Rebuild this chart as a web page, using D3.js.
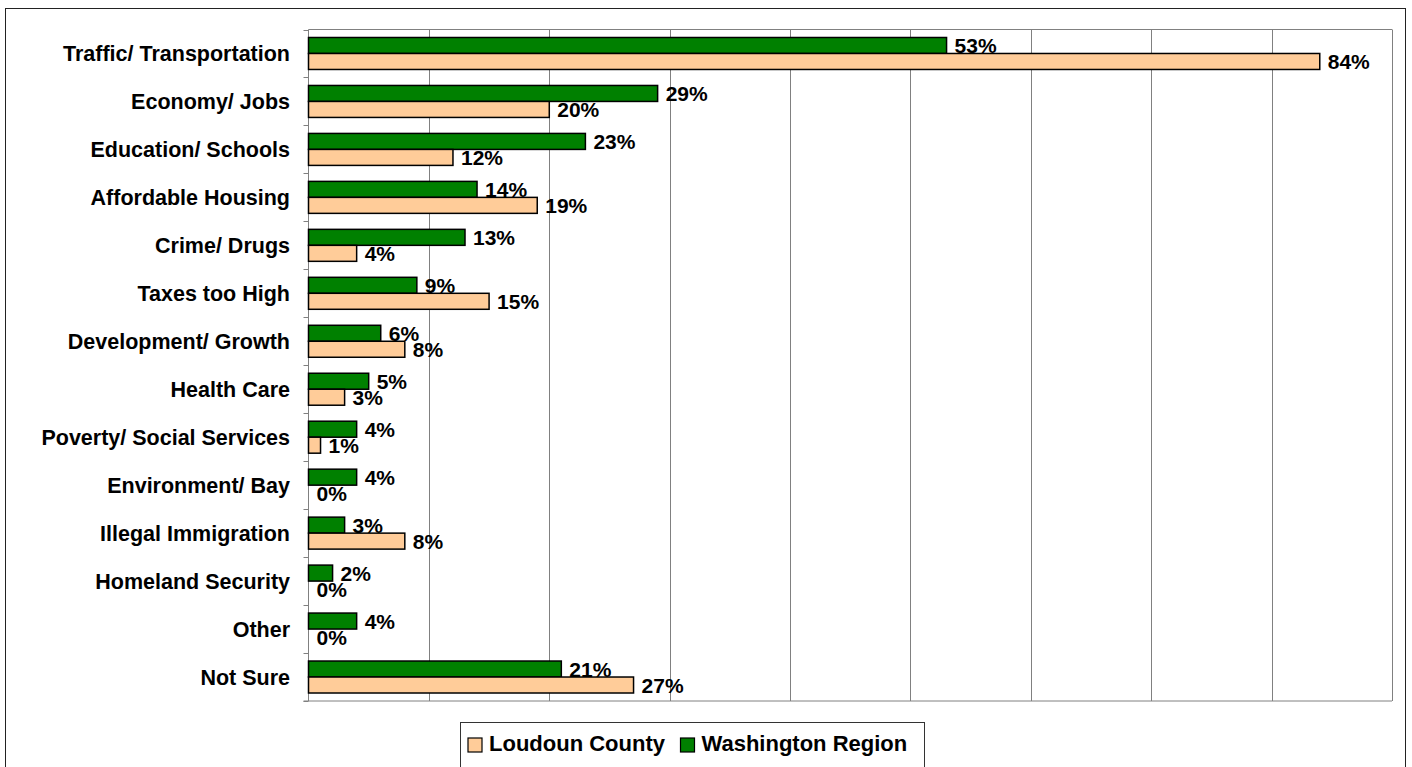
<!DOCTYPE html>
<html>
<head>
<meta charset="utf-8">
<script src="https://cdn.jsdelivr.net/npm/d3@7"></script>
<style>
  body { margin: 0; background: #fff; }
  text { font-family: "Liberation Sans", Arial, sans-serif; font-weight: bold; fill: #000; }
</style>
</head>
<body>
<div id="chart"></div>
<script>
var width = 1412;
var height = 767;

var categories = ["Traffic/ Transportation", "Economy/ Jobs", "Education/ Schools", "Affordable Housing",
  "Crime/ Drugs", "Taxes too High", "Development/ Growth", "Health Care", "Poverty/ Social Services",
  "Environment/ Bay", "Illegal Immigration", "Homeland Security", "Other", "Not Sure"];
var washington = [53, 29, 23, 14, 13, 9, 6, 5, 4, 4, 3, 2, 4, 21];
var loudoun = [84, 20, 12, 19, 4, 15, 8, 3, 1, 0, 8, 0, 0, 27];
var seriesNames = ["Washington Region", "Loudoun County"];
var legendOrder = ["Loudoun County", "Washington Region"];
var colors = { "Washington Region": "#008000", "Loudoun County": "#ffcc99" };
var gridTicks = [0, 10, 20, 30, 40, 50, 60, 70, 80, 90];

var plot = { left: 308.5, top: 29.5, right: 1392, bottom: 701 };

var svg = d3.select("#chart").append("svg")
  .attr("width", width)
  .attr("height", height);

// outer frame
svg.append("rect")
  .attr("x", 5.5).attr("y", 8.5)
  .attr("width", 1400).attr("height", 770)
  .attr("fill", "#fff").attr("stroke", "#222").attr("stroke-width", 1);

var x = d3.scaleLinear().domain([0, 90]).range([plot.left, plot.right]);
var y = d3.scaleBand().domain(categories).range([plot.top, plot.bottom]);
var y1 = d3.scaleBand().domain(seriesNames).range([0, y.bandwidth()]).paddingOuter(0.5);

// gridlines
svg.append("g")
  .selectAll("line")
  .data(gridTicks.slice(1))
  .enter().append("line")
  .attr("x1", function(d) { return Math.round(x(d)) + 0.5; })
  .attr("x2", function(d) { return Math.round(x(d)) + 0.5; })
  .attr("y1", plot.top).attr("y2", plot.bottom)
  .attr("stroke", "#808080").attr("stroke-width", 1);

// plot frame top
svg.append("line")
  .attr("x1", plot.left).attr("x2", plot.right)
  .attr("y1", plot.top).attr("y2", plot.top)
  .attr("stroke", "#808080");

// left axis with ticks at band edges
var edges = categories.map(function(c) { return y(c); }).concat([plot.bottom]);
svg.append("line")
  .attr("x1", plot.left).attr("x2", plot.left)
  .attr("y1", plot.top).attr("y2", plot.bottom)
  .attr("stroke", "#808080");
svg.append("g").selectAll("line")
  .data(edges)
  .enter().append("line")
  .attr("x1", plot.left - 5).attr("x2", plot.left)
  .attr("y1", function(d) { return Math.round(d) + 0.5; })
  .attr("y2", function(d) { return Math.round(d) + 0.5; })
  .attr("stroke", "#808080");
// bottom axis
svg.append("line")
  .attr("x1", plot.left - 5).attr("x2", plot.right)
  .attr("y1", plot.bottom).attr("y2", plot.bottom)
  .attr("stroke", "#808080");

// category labels
svg.append("g").selectAll("text")
  .data(categories)
  .enter().append("text")
  .attr("x", 290)
  .attr("y", function(d) { return y(d) + y.bandwidth() / 2; })
  .attr("dy", "0.36em")
  .attr("text-anchor", "end")
  .style("font-size", "21.5px")
  .text(function(d) { return d; });

// bars
var rows = categories.map(function(c, i) {
  return { cat: c, values: [
    { name: "Washington Region", v: washington[i] },
    { name: "Loudoun County", v: loudoun[i] }
  ] };
});

var groups = svg.append("g").selectAll("g")
  .data(rows)
  .enter().append("g")
  .attr("transform", function(d) { return "translate(0," + y(d.cat) + ")"; });

groups.selectAll("rect")
  .data(function(d) { return d.values; })
  .enter().append("rect")
  .attr("x", x(0))
  .attr("y", function(d) { return y1(d.name); })
  .attr("width", function(d) { return x(d.v) - x(0); })
  .attr("height", y1.bandwidth())
  .attr("fill", function(d) { return colors[d.name]; })
  .attr("stroke", function(d) { return d.v > 0 ? "#000" : "none"; })
  .attr("stroke-width", 1.5);

groups.selectAll("text")
  .data(function(d) { return d.values; })
  .enter().append("text")
  .attr("x", function(d) { return x(d.v) + 8; })
  .attr("y", function(d) { return y1(d.name) + y1.bandwidth() / 2; })
  .attr("dy", "0.36em")
  .style("font-size", "21px")
  .text(function(d) { return d.v + "%"; });

// legend
var legend = svg.append("g").attr("transform", "translate(460.5,722.5)");
legend.append("rect")
  .attr("width", 464).attr("height", 60)
  .attr("fill", "#fff").attr("stroke", "#333");
var lx = [7.5, 220];
legendOrder.forEach(function(name, i) {
  legend.append("rect")
    .attr("x", lx[i]).attr("y", 15.5)
    .attr("width", 14).attr("height", 14)
    .attr("fill", colors[name]).attr("stroke", "#000").attr("stroke-width", 1.2);
  legend.append("text")
    .attr("x", lx[i] + 21).attr("y", 28)
    .style("font-size", "22px")
    .text(name);
});
</script>
</body>
</html>
